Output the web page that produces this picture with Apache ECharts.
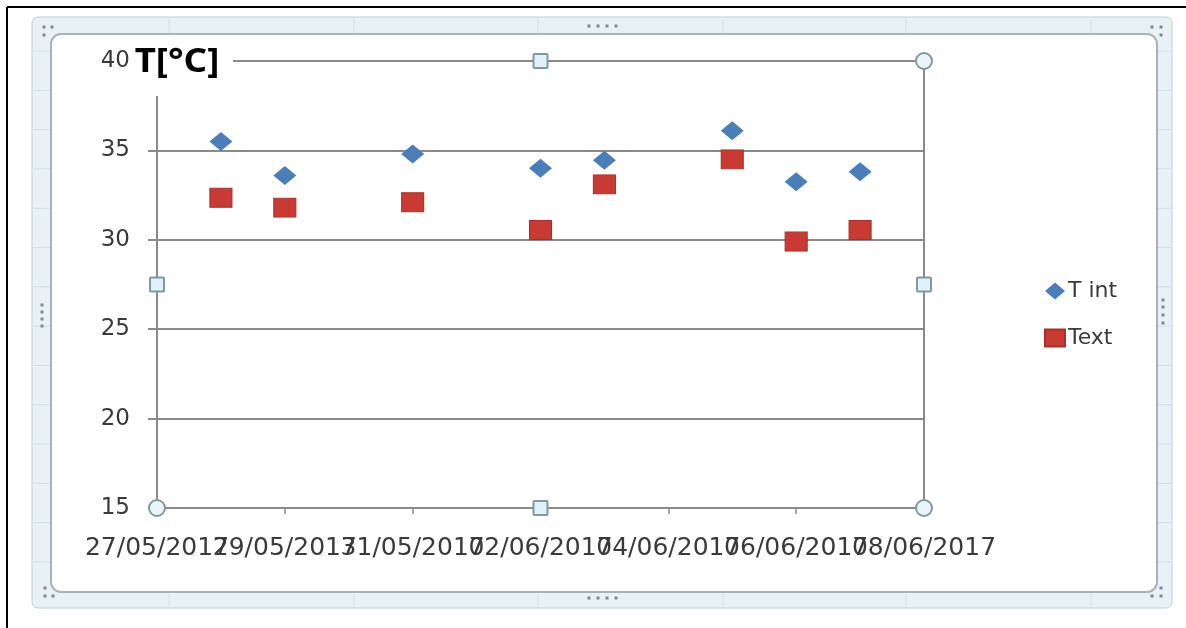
<!DOCTYPE html>
<html>
<head>
<meta charset="utf-8">
<script src="https://cdn.jsdelivr.net/npm/echarts@6/dist/echarts.min.js"></script>
<style>
html,body{margin:0;padding:0;background:#fff;}
#chart{width:1186px;height:628px;}
</style>
</head>
<body>
<div id="chart"></div>
<script>
// ---- data ----
const dates = ['28/05/2017','29/05/2017','31/05/2017','02/06/2017','03/06/2017','05/06/2017','06/06/2017','07/06/2017'];
const tInt = [35.5, 33.6, 34.8, 34.0, 34.45, 36.1, 33.25, 33.8];
const tExt = [32.35, 31.8, 32.1, 30.55, 33.1, 34.5, 29.9, 30.55];
const xTickLabels = ['27/05/2017','29/05/2017','31/05/2017','02/06/2017','04/06/2017','06/06/2017','08/06/2017'];
const yTicks = [15, 20, 25, 30, 35, 40];
const seriesNames = ['T int', 'Text'];
const yTitle = 'T[°C]';

// ---- helpers ----
const DAY = 86400000;
function parseD(s){ const p = s.split('/'); return Date.UTC(+p[2], +p[1]-1, +p[0]); }
const base = parseD(xTickLabels[0]);
const dayOf = s => (parseD(s) - base) / DAY;
const xTickVals = xTickLabels.map(dayOf);
const xMax = xTickVals[xTickVals.length-1];
const evenTicks = xTickVals.filter((v,i)=>i%2===0);
const oddTicks = xTickVals.filter((v,i)=>i%2===1);
const fmtX = v => xTickLabels[xTickVals.indexOf(Math.round(v))] || '';

// layout
const G = {left:157, top:61, width:767, height:447};
const GR = G.left + G.width, GB = G.top + G.height;
const GMX = G.left + G.width/2, GMY = G.top + G.height/2;
const axisColor = '#8a8a8a';
const labelFont = 'DejaVu Sans';
const labelColor = '#3a3a3a';

const chart = echarts.init(document.getElementById('chart'));

const graphics = [];
// black frame lines
graphics.push({type:'line', z:-20, shape:{x1:7,y1:7,x2:1186,y2:7}, style:{stroke:'#000', lineWidth:2}});
graphics.push({type:'line', z:-20, shape:{x1:7,y1:7,x2:7,y2:628}, style:{stroke:'#000', lineWidth:2}});
// outer excel frame
graphics.push({type:'rect', z:-19, shape:{x:32,y:17,width:1140,height:591,r:6}, style:{fill:'#e8f2f6', stroke:'#bcd2db', lineWidth:1}});
// faint spreadsheet lines
[169,354,538,723,906,1091].forEach(x=>graphics.push({type:'line', z:-18, shape:{x1:x,y1:18,x2:x,y2:607}, style:{stroke:'#d0e0e7', lineWidth:1}}));
for(let y=51; y<600; y+=39.3){ graphics.push({type:'line', z:-18, shape:{x1:33,y1:y,x2:1171,y2:y}, style:{stroke:'#d0e0e7', lineWidth:1}}); }
// inner white chart area
graphics.push({type:'rect', z:-17, shape:{x:51,y:34,width:1106,height:558,r:10}, style:{fill:'#ffffff', stroke:'#a7b3b8', lineWidth:2}});
// frame dots
const dots = [
  [44,27],[52,27],[44,35],
  [1152,27],[1161,27],[1161,35],
  [45,588],[45,596],[53,596],
  [1161,588],[1152,596],[1161,596],
  [589,26],[598,26],[607,26],[616,26],
  [589,598],[598,598],[607,598],[616,598],
  [42,305],[42,312],[42,319],[42,326],
  [1163,300],[1163,307],[1163,315],[1163,323]
];
dots.forEach(d=>graphics.push({type:'rect', z:-16, shape:{x:d[0]-1.5,y:d[1]-1.5,width:3,height:3}, style:{fill:'#7b8b92'}}));
// selection handles of plot area
[[G.left,GB],[GR,G.top],[GR,GB]].forEach(p=>graphics.push({type:'circle', z:50, shape:{cx:p[0],cy:p[1],r:8}, style:{fill:'#eaf5f9', stroke:'#7f98a2', lineWidth:2}}));
[[GMX,G.top],[G.left,GMY],[GR,GMY],[GMX,GB]].forEach(p=>graphics.push({type:'rect', z:50, shape:{x:p[0]-7,y:p[1]-7,width:14,height:14,r:1}, style:{fill:'#dff2f9', stroke:'#7f98a2', lineWidth:2}}));
// title box
graphics.push({type:'rect', z:40, shape:{x:134,y:36,width:99,height:60}, style:{fill:'#ffffff'}});
graphics.push({type:'text', z:41, x:177, y:62, scaleX:1.08, style:{text:yTitle, fontSize:34, fontWeight:'bold', fontFamily:'Noto Sans', fill:'#000', align:'center', verticalAlign:'middle'}});

function xAxisDef(vals, showLine){
  return {
    type:'value', min:0, max:xMax, position:'bottom', offset:0,
    axisLine:{show:showLine, lineStyle:{color:axisColor, width:2}},
    axisTick:{show:true, length:6, customValues:vals, lineStyle:{color:axisColor, width:1.5}},
    splitLine:{show:false},
    axisLabel:{fontSize:25, color:labelColor, fontFamily:labelFont, margin:28, customValues:vals,
      showMinLabel:true, showMaxLabel:true, hideOverlap:false, formatter:fmtX}
  };
}

const option = {
  animation:false,
  backgroundColor:'#fff',
  grid:{left:G.left, top:G.top, width:G.width, height:G.height, show:true, borderColor:axisColor, borderWidth:2, backgroundColor:'transparent'},
  legend:{
    orient:'vertical', left:1039, top:275, itemWidth:20, itemHeight:17, itemGap:25,
    textStyle:{fontSize:22, color:labelColor, fontFamily:labelFont, padding:[0,0,0,-2]},
    data:[{name:seriesNames[0], icon:'diamond'},{name:seriesNames[1], icon:'rect'}]
  },
  xAxis:[xAxisDef(evenTicks, true), xAxisDef(oddTicks, false)],
  yAxis:{
    type:'value', min:yTicks[0], max:yTicks[yTicks.length-1], interval:yTicks[1]-yTicks[0],
    axisLine:{show:true, lineStyle:{color:axisColor, width:2}},
    axisTick:{show:true, length:9, lineStyle:{color:axisColor, width:2}},
    splitLine:{show:true, lineStyle:{color:axisColor, width:2}},
    axisLabel:{fontSize:23, color:labelColor, fontFamily:labelFont, margin:27}
  },
  series:[
    {name:seriesNames[0], type:'scatter', xAxisIndex:0, symbol:'diamond', symbolSize:[23,19], z:5,
      itemStyle:{color:'#4a7ebb', opacity:1}, data:dates.map((d,i)=>[dayOf(d), tInt[i]])},
    {name:seriesNames[1], type:'scatter', xAxisIndex:0, symbol:'rect', symbolSize:[22,19], z:5,
      itemStyle:{color:'#c93a32', borderColor:'#a8302a', borderWidth:1, opacity:1}, data:dates.map((d,i)=>[dayOf(d), tExt[i]])}
  ],
  graphic:{elements:graphics}
};
chart.setOption(option);
</script>
</body>
</html>
